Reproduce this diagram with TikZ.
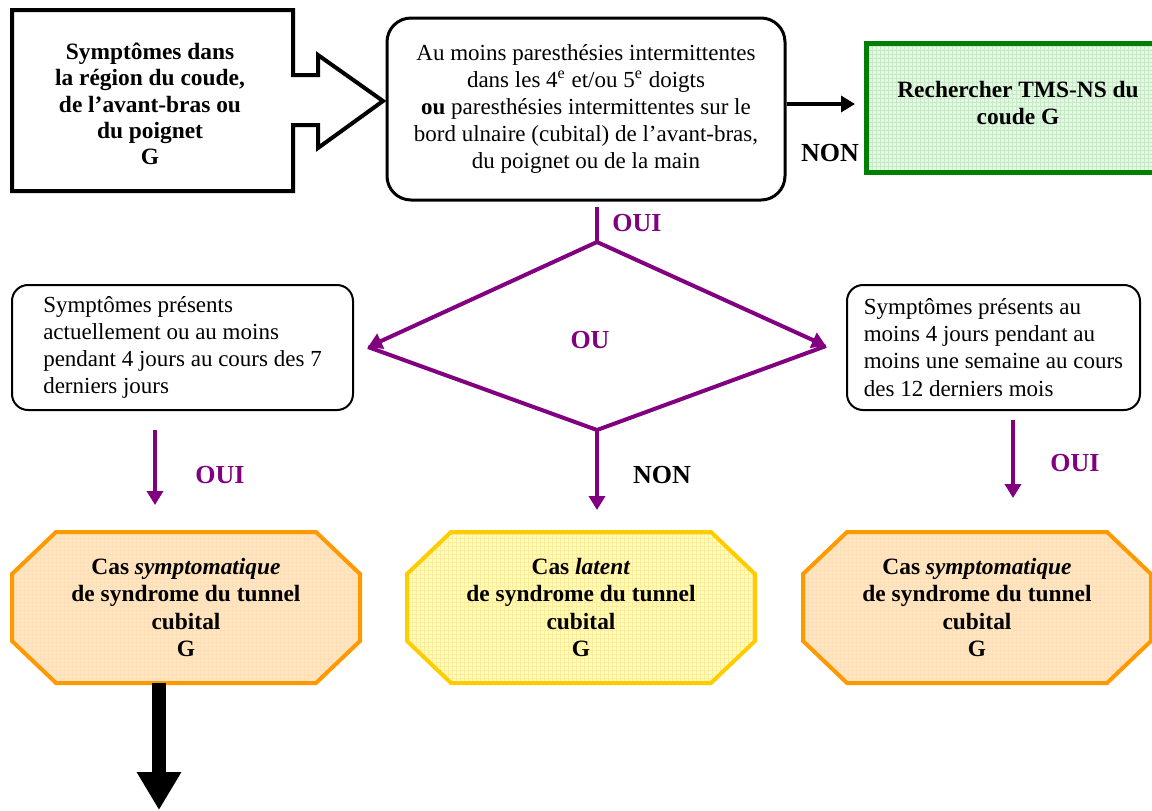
\documentclass[tikz,border=0pt]{standalone}
\usepackage{fontspec}
\setmainfont{Liberation Serif}
\usetikzlibrary{arrows.meta,patterns.meta}

\definecolor{ouipurple}{RGB}{128,0,128}
\definecolor{tmsgreen}{RGB}{0,128,0}
\definecolor{tmsfill}{RGB}{222,255,222}
\definecolor{casorange}{RGB}{255,153,0}
\definecolor{casorangefill}{RGB}{253,228,202}
\definecolor{casyellow}{RGB}{255,204,0}
\definecolor{casyellowfill}{RGB}{255,255,185}

\tikzset{
  txt/.style={font=\fontsize{11.5}{13.6}\selectfont},
  gras/.style={font=\fontsize{11.7}{13.6}\selectfont\bfseries},
  rbox/.style={draw, rounded corners=8pt, line width=1pt, inner sep=0pt, txt},
  casbox/.style={minimum width=174pt, minimum height=75.5pt, inner sep=0pt,
    align=center, gras},
  grille/.style 2 args={preaction={fill=#1},
    preaction={pattern={Hatch[distance=2pt,line width=0.3pt]}, pattern color=#2}},
  lab/.style={font=\fontsize{13}{14}\selectfont\bfseries},
  parrow/.style={draw=ouipurple, line width=2pt,
    -{Triangle[length=7pt,width=8pt]}},
}

% Octagon for a case: centre x, centre y, border colour, fill, grid colour
\newcommand\octagone[5]{%
  \draw[line width=2pt, draw=#3, grille={#4}{#5}] (#1,#2) ++(-130,-75.5)
    -- ++(260,0) -- ++(44,42) -- ++(0,67) -- ++(-44,42) -- ++(-260,0)
    -- ++(-44,-42) -- ++(0,-67) -- cycle;}

\begin{document}
\begin{tikzpicture}[x=0.5pt,y=-0.5pt]
    \useasboundingbox (0,0) rectangle (1152,810);
    \clip (0,0) rectangle (1152,810);

    % Block arrow with the starting symptoms
    \draw[line width=2pt] (12,10) -- (293,10) -- (293,75) -- (318,75) -- (318,55)
        -- (383,101) -- (318,148) -- (318,125) -- (293,125) -- (293,191)
        -- (12,191) -- cycle;
    \node[font=\fontsize{11.7}{13.2}\selectfont\bfseries, align=center] (S) at (150,104)
        {Symptômes dans\\la région du coude,\\de l’avant-bras ou\\du poignet\\G};

    % Criterion box
    \node[rbox, rounded corners=12pt, line width=1.5pt, minimum width=199pt,
        minimum height=91pt, align=center] (C) at (586,109)
        {Au moins paresthésies intermittentes\\
         dans les 4\textsuperscript{e} et/ou 5\textsuperscript{e} doigts\\
         \textbf{ou} paresthésies intermittentes sur le\\
         bord ulnaire (cubital) de l’avant-bras,\\
         du poignet ou de la main};

    % Other elbow disorders
    \node[draw=tmsgreen, line width=2.5pt, grille={tmsfill}{tmsgreen!20},
        minimum width=152pt, minimum height=64.5pt, align=center,
        gras, text depth=5pt, xshift=2.5pt] (R) at (1013,107.5)
        {Rechercher TMS-NS du\\coude G};

    % Arrow to the green box
    \coordinate (N1) at (855,104);
    \draw[line width=2pt, -{Triangle[length=7pt,width=8pt]}] (C.east |- N1) -- (N1);
    \node[lab] (non1) at (830,153) {NON};

    % Purple diamond
    \coordinate (T0) at (597,207);
    \coordinate (T) at (597,242);
    \coordinate (L) at (368,347);
    \coordinate (Rt) at (826,346);
    \coordinate (B) at (597,430);
    \draw[draw=ouipurple, line width=2pt] (T0) -- (T);
    \draw[parrow] (T) -- (L);
    \draw[parrow] (T) -- (Rt);
    \draw[draw=ouipurple, line width=2pt] (L) -- (B) -- (Rt);
    \node[lab, text=ouipurple] (oui0) at (637,223) {OUI};
    \node[lab, text=ouipurple] (ou) at (590,340) {OU};

    % Duration boxes
    \node[rbox, minimum width=170.5pt, minimum height=62.5pt, align=left] (P) at (182.5,347.5)
        {Symptômes présents\\actuellement ou au moins\\pendant 4 jours au cours des 7\\derniers jours};
    \node[rbox, minimum width=146.5pt, minimum height=62.5pt, align=left] (Q) at (993.5,347.5)
        {Symptômes présents au\\moins 4 jours pendant au\\moins une semaine au cours\\des 12 derniers mois};

    % Case octagons
    \octagone{186}{607.5}{casorange}{casorangefill}{casorange!30}
    \node[casbox] (K1) at (186,607.5)
        {Cas \textit{symptomatique}\\de syndrome du tunnel\\cubital\\G};
    \octagone{581}{607.5}{casyellow}{casyellowfill}{casyellow!40}
    \node[casbox] (K2) at (581,607.5)
        {Cas \textit{latent}\\de syndrome du tunnel\\cubital\\G};
    \octagone{977}{607.5}{casorange}{casorangefill}{casorange!30}
    \node[casbox] (K3) at (977,607.5)
        {Cas \textit{symptomatique}\\de syndrome du tunnel\\cubital\\G};

    % Purple arrows down
    \coordinate (P1) at (155,430);
    \coordinate (P2) at (155,505);
    \coordinate (M2) at (597,510);
    \coordinate (Q1) at (1013,420);
    \coordinate (Q2) at (1013,498);
    \draw[parrow] (P1) -- (P2);
    \draw[parrow] (B) -- (M2);
    \draw[parrow] (Q1) -- (Q2);
    \node[lab, text=ouipurple] (oui1) at (220,475) {OUI};
    \node[lab] (non2) at (662,475) {NON};
    \node[lab, text=ouipurple] (oui2) at (1075,463) {OUI};

    % Big arrow below
    \coordinate (E) at (159,810);
    \draw[line width=7pt, -{Triangle[length=19pt,width=21pt]}] (K1.south -| E) -- (E);

\end{tikzpicture}
\end{document}
